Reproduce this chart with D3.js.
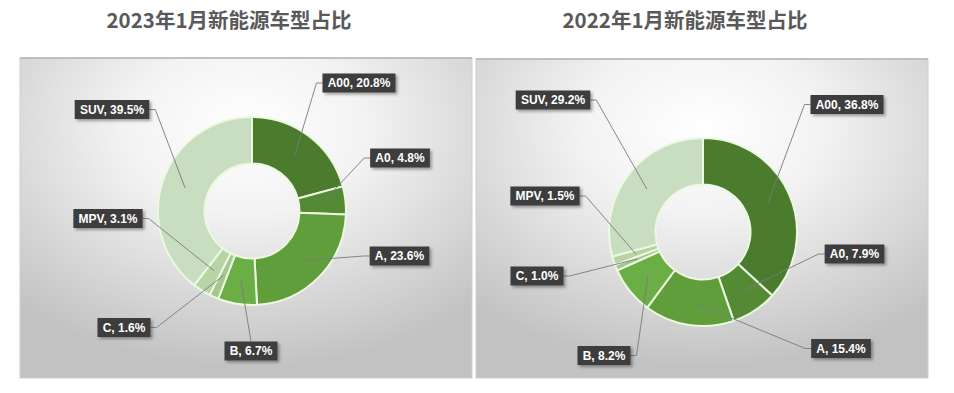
<!DOCTYPE html>
<html>
<head>
<meta charset="utf-8">
<script src="https://cdn.jsdelivr.net/npm/d3@7"></script>
<style>
  html, body { margin: 0; padding: 0; background: #ffffff; }
  svg { display: block; }
</style>
</head>
<body>
<svg id="chart" width="954" height="393"></svg>
<script>
// ---------- data ----------
const categories = ["A00", "A0", "A", "B", "C", "MPV", "SUV"];
const values2023 = [20.8, 4.8, 23.6, 6.7, 1.6, 3.1, 39.5];
const values2022 = [36.8, 7.9, 15.4, 8.2, 1.0, 1.5, 29.2];
const titles = ["2023年1月新能源车型占比", "2022年1月新能源车型占比"];
const colors = ["#4b7b2d", "#548a33", "#5f9e3b", "#6bae45", "#a3c78c", "#b8d3a6", "#c9ddc1"];

// ---------- layout (label box centres relative to donut centre) ----------
const labelPos2023 = [[107, -128], [148, -53], [147.5, 45], [-1, 140], [-128, 116.5], [-144, 7.5], [-140, -101.5]];
const labelPos2022 = [[144, -127.5], [151.5, 22], [138, 116.5], [-99, 123.5], [-166, 44], [-158, -36], [-150, -132]];

const panels = [
  { title: titles[0], values: values2023, labels: labelPos2023,
    box: { x: 20, y: 58, w: 452, h: 320 }, center: [252, 211], titleX: 229 },
  { title: titles[1], values: values2022, labels: labelPos2022,
    box: { x: 476, y: 59, w: 452, h: 319 }, center: [703, 232], titleX: 685 }
];

const svg = d3.select("#chart");
const defs = svg.append("defs");

const grad = defs.append("radialGradient")
  .attr("id", "bg").attr("cx", "50%").attr("cy", "22%").attr("r", "75%")
  .attr("fx", "50%").attr("fy", "22%");
grad.append("stop").attr("offset", "0%").attr("stop-color", "#ffffff");
grad.append("stop").attr("offset", "35%").attr("stop-color", "#f3f3f3");
grad.append("stop").attr("offset", "100%").attr("stop-color", "#c2c2c2");

const shadow = defs.append("filter").attr("id", "shadow")
  .attr("x", "-20%").attr("y", "-30%").attr("width", "150%").attr("height", "170%");
shadow.append("feDropShadow").attr("dx", 2).attr("dy", 2).attr("stdDeviation", 1.5)
  .attr("flood-color", "#000").attr("flood-opacity", 0.35);

const outerR = 94, innerR = 47.5;
const pie = d3.pie().sort(null).value(d => d);
const arc = d3.arc().innerRadius(innerR).outerRadius(outerR);
const midArc = d3.arc().innerRadius((innerR + outerR) / 2).outerRadius((innerR + outerR) / 2);

panels.forEach(p => {
  // title
  svg.append("text")
    .attr("x", p.titleX).attr("y", 28)
    .attr("text-anchor", "middle")
    .attr("font-family", "'Noto Sans CJK SC', 'Noto Sans', sans-serif")
    .attr("font-weight", "bold")
    .attr("font-size", 20.5)
    .attr("fill", "#595959")
    .text(p.title);

  // panel background
  svg.append("rect")
    .attr("x", p.box.x).attr("y", p.box.y)
    .attr("width", p.box.w).attr("height", p.box.h)
    .attr("fill", "url(#bg)")
    .attr("stroke", "#cfcfcf").attr("stroke-width", 1);
  svg.append("line")
    .attr("x1", p.box.x).attr("x2", p.box.x + p.box.w)
    .attr("y1", p.box.y).attr("y2", p.box.y)
    .attr("stroke", "#b5b5b5").attr("stroke-width", 1.5);

  const g = svg.append("g").attr("transform", `translate(${p.center[0]},${p.center[1]})`);
  const arcs = pie(p.values);

  g.selectAll("path.slice").data(arcs).join("path")
    .attr("class", "slice")
    .attr("d", arc)
    .attr("fill", (d, i) => colors[i])
    .attr("stroke", "#ecf8e0")
    .attr("stroke-width", 2)
    .attr("stroke-linejoin", "round");

  // labels
  const lg = g.append("g");
  arcs.forEach((d, i) => {
    const [cx, cy] = p.labels[i];
    const txt = `${categories[i]}, ${d.data.toFixed(1)}%`;
    const t = lg.append("text")
      .attr("x", cx).attr("y", cy)
      .attr("text-anchor", "middle")
      .attr("dominant-baseline", "central")
      .attr("font-family", "'Liberation Sans', Arial, sans-serif")
      .attr("font-weight", "bold")
      .attr("font-size", 12)
      .attr("fill", "#ffffff")
      .text(txt);
    const bb = t.node().getBBox();
    const w = bb.width + 10, h = 19;
    const left = cx - w / 2, right = cx + w / 2, top = cy - h / 2, bottom = cy + h / 2;
    const [ax, ay] = midArc.centroid(d);
    let pts;
    if (ax < left) pts = [[ax, ay], [left - 6, cy], [left, cy]];
    else if (ax > right) pts = [[ax, ay], [right + 6, cy], [right, cy]];
    else if (ay < top) pts = [[ax, ay], [cx, top]];
    else pts = [[ax, ay], [cx, bottom]];
    lg.insert("path", "text")
      .attr("d", d3.line()(pts))
      .attr("fill", "none")
      .attr("stroke", "#7a7a7a")
      .attr("stroke-width", 0.9);
    lg.insert("rect", "text")
      .attr("x", left).attr("y", top).attr("width", w).attr("height", h)
      .attr("fill", "#3d3d3d")
      .attr("filter", "url(#shadow)");
    t.raise();
  });
});
</script>
</body>
</html>
